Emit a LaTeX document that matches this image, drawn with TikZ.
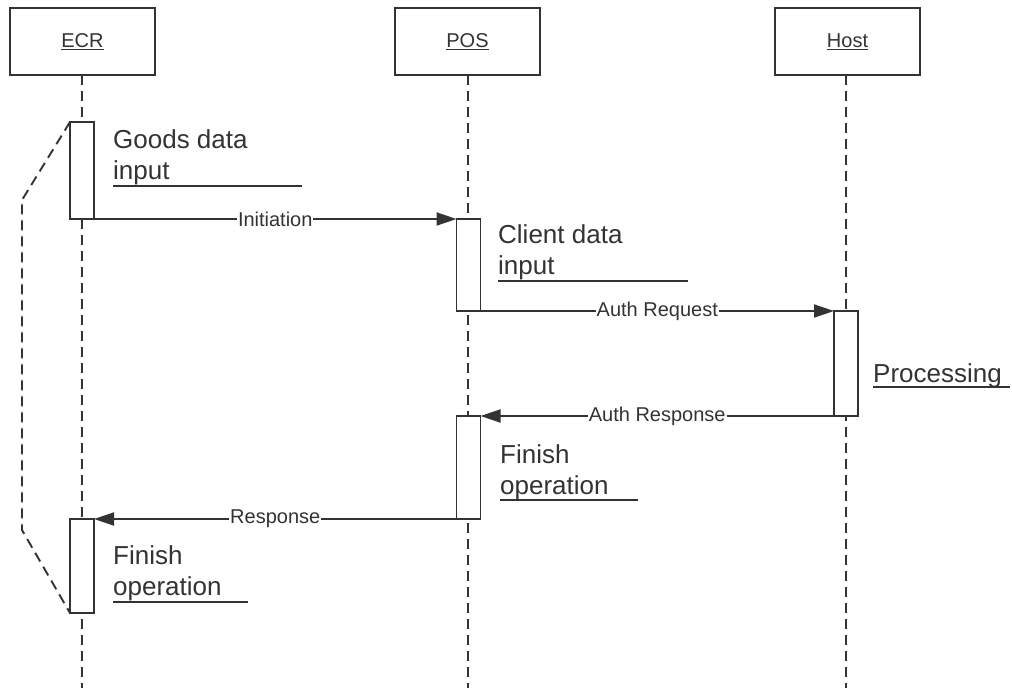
\documentclass[tikz,border=0pt]{standalone}
\usepackage{fontspec}
\setmainfont{Liberation Sans}
\usetikzlibrary{arrows.meta}
\definecolor{ink}{HTML}{333333}
\begin{document}
\begin{tikzpicture}[x=1pt,y=-1pt,
 head/.style={draw=ink, line width=1.9pt, minimum width=145pt, minimum height=67pt, inner sep=0pt, outer sep=0pt, font=\fontsize{20}{24}\selectfont, text=ink},
 act/.style={draw=ink, line width=1.8pt, fill=white, minimum width=24pt, inner sep=0pt, outer sep=0pt},
 life/.style={draw=ink, line width=1.9pt, dash pattern=on 10pt off 6pt},
 msg/.style={draw=ink, line width=1.9pt, -{Triangle[length=20pt,width=13pt]}},
 lbl/.style={fill=white, inner sep=1pt, font=\fontsize{20}{24}\selectfont, text=ink},
 note/.style={anchor=base west, align=left, font=\fontsize{26}{31}\selectfont, text=ink, inner sep=0pt},
 uline/.style={draw=ink, line width=1.8pt}
]
\useasboundingbox (0,0) rectangle (1012,688);
% heads
\node[head] (ecr) at (82.5,41.5) {\underline{ECR}};
\node[head] (pos) at (467.5,41.5) {\underline{POS}};
\node[head] (host) at (847.5,41.5) {\underline{Host}};
% lifeline ends
\coordinate (ecrE) at (82,688);
\coordinate (posE) at (468,688);
\coordinate (hostE) at (846,688);
\draw[life] (ecr.south -| ecrE) -- (ecrE);
\draw[life] (pos.south -| posE) -- (posE);
\draw[life] (host.south -| hostE) -- (hostE);
% activations
\node[act, minimum height=97pt] (a1) at (82,170.5) {};
\node[act, minimum height=92pt] (p1) at (468.5,265) {};
\node[act, minimum height=105pt] (h1) at (846,363.5) {};
\node[act, minimum height=103pt] (p2) at (468.5,467.5) {};
\node[act, minimum height=94pt] (a2) at (82,566) {};
% bracket
\coordinate (b1) at (22,200);
\coordinate (b2) at (22,530);
\draw[life] (a1.north west) -- (b1) -- (b2) -- (a2.south west);
% messages
\draw[msg] (a1.south east) -- node[lbl] {Initiation} (p1.north west);
\draw[msg] (p1.south east) -- node[lbl] {Auth Request} (h1.north west);
\draw[msg] (h1.south west) -- node[lbl] {Auth Response} (p2.north east);
\draw[msg] (p2.south west) -- node[lbl] {Response} (a2.north east);
% notes
\node[note] (n1) at (113,179) {Goods data\\input};
\coordinate (u1) at (302,186);
\draw[uline] (113,186) -- (u1);
\node[note] (n2) at (498,274) {Client data\\input};
\coordinate (u2) at (688,281);
\draw[uline] (498,281) -- (u2);
\node[note] (n3) at (873,382) {Processing};
\coordinate (u3) at (1010,387);
\draw[uline] (873,387) -- (u3);
\node[note] (n4) at (500,494) {Finish\\operation};
\coordinate (u4) at (638,500);
\draw[uline] (500,500) -- (u4);
\node[note] (n5) at (113,595) {Finish\\operation};
\coordinate (u5) at (248,602);
\draw[uline] (113,602) -- (u5);
\end{tikzpicture}
\end{document}
